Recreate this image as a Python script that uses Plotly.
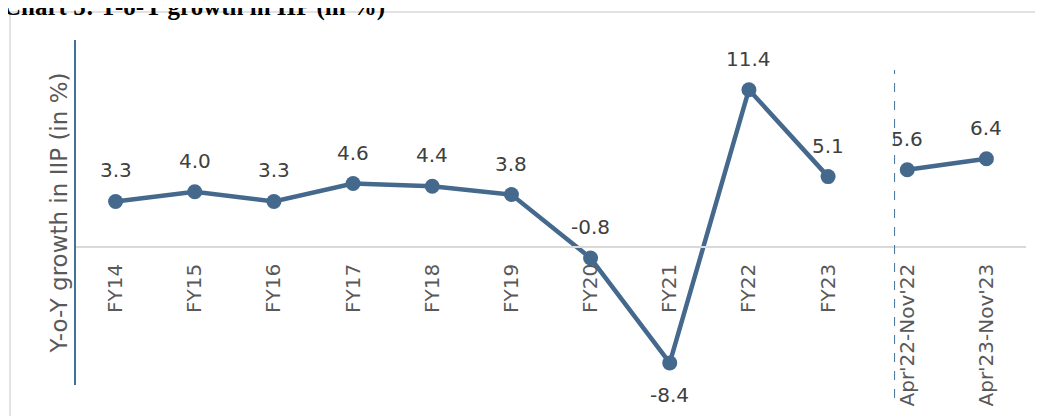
import plotly.graph_objects as go

categories = ["FY14", "FY15", "FY16", "FY17", "FY18", "FY19", "FY20", "FY21",
              "FY22", "FY23", "Apr'22-Nov'22", "Apr'23-Nov'23"]
annual_growth = [3.3, 4.0, 3.3, 4.6, 4.4, 3.8, -0.8, -8.4, 11.4, 5.1]
ytd_growth = [5.6, 6.4]
label_text = ["3.3", "4.0", "3.3", "4.6", "4.4", "3.8", "-0.8", "-8.4", "11.4", "5.1", "5.6", "6.4"]

title_text = "Chart 5: Y-o-Y growth in IIP (in %)"
y_title = "Y-o-Y growth in IIP (in %)"

LINE = "#44698D"
W, H = 1043, 416
# page offset of 8px (body margin) compensated in margins
ml, mr, mt, mb = 68, 25, 32, 39
ph = H - mt - mb
pw = W - ml - mr
PL, PB = 76, 385  # plot left / bottom in page pixels

def py(y_page):
    return (PB - y_page) / ph

def px(x_page):
    return (x_page - PL) / pw

fig = go.Figure()
fig.add_trace(go.Scatter(
    x=categories[:len(annual_growth)], y=annual_growth, mode="lines+markers",
    line=dict(color=LINE, width=4.5), marker=dict(size=15, color=LINE),
    showlegend=False, hoverinfo="skip"))
fig.add_trace(go.Scatter(
    x=categories[len(annual_growth):], y=ytd_growth, mode="lines+markers",
    line=dict(color=LINE, width=4.5), marker=dict(size=15, color=LINE),
    showlegend=False, hoverinfo="skip"))

all_vals = annual_growth + ytd_growth
annotations = []
for cat, v, t in zip(categories, all_vals, label_text):
    up = v > -5
    annotations.append(dict(x=cat, y=v, xref="x", yref="y", text=t, showarrow=False,
                            yshift=31 if up else -32,
                            font=dict(family="DejaVu Sans", size=20, color="#404040")))

annotations.append(dict(x=px(2), y=py(22), xref="paper", yref="paper",
                        text="<b>" + title_text + "</b>", showarrow=False,
                        xanchor="left", yanchor="bottom", borderpad=0,
                        font=dict(family="Liberation Serif", size=25, color="#000000")))

shapes = [
    dict(type="rect", xref="paper", yref="paper",
         x0=px(10), x1=1.2, y0=-0.3, y1=py(12),
         line=dict(color="#D9D9D9", width=1.5), fillcolor="rgba(0,0,0,0)", layer="below"),
    dict(type="line", xref="x", yref="paper", x0=9.84, x1=9.84,
         y0=py(398), y1=py(70),
         line=dict(color="#41719C", width=1, dash="dash")),
]

fig.update_layout(
    width=W, height=H,
    margin=dict(l=ml, r=mr, t=mt, b=mb, autoexpand=False),
    paper_bgcolor="white", plot_bgcolor="white",
    annotations=annotations, shapes=shapes,
    xaxis=dict(type="category", categoryorder="array", categoryarray=categories,
               range=[-0.5, 11.5], anchor="free", position=0.4,
               showline=True, linecolor="#D9D9D9", linewidth=1.5,
               showgrid=False, zeroline=False, automargin=False,
               ticks="outside", ticklen=8, tickcolor="rgba(0,0,0,0)",
               tickangle=-90,
               tickfont=dict(family="DejaVu Sans", size=20, color="#595959")),
    yaxis=dict(range=[-10, 15], showticklabels=False, showgrid=False, zeroline=False,
               showline=True, linecolor="#41719C", linewidth=1.5, ticks="", automargin=False,
               title=dict(text=y_title, standoff=0,
                          font=dict(family="DejaVu Sans", size=23, color="#595959"))),
)

fig.write_html("out.html")
